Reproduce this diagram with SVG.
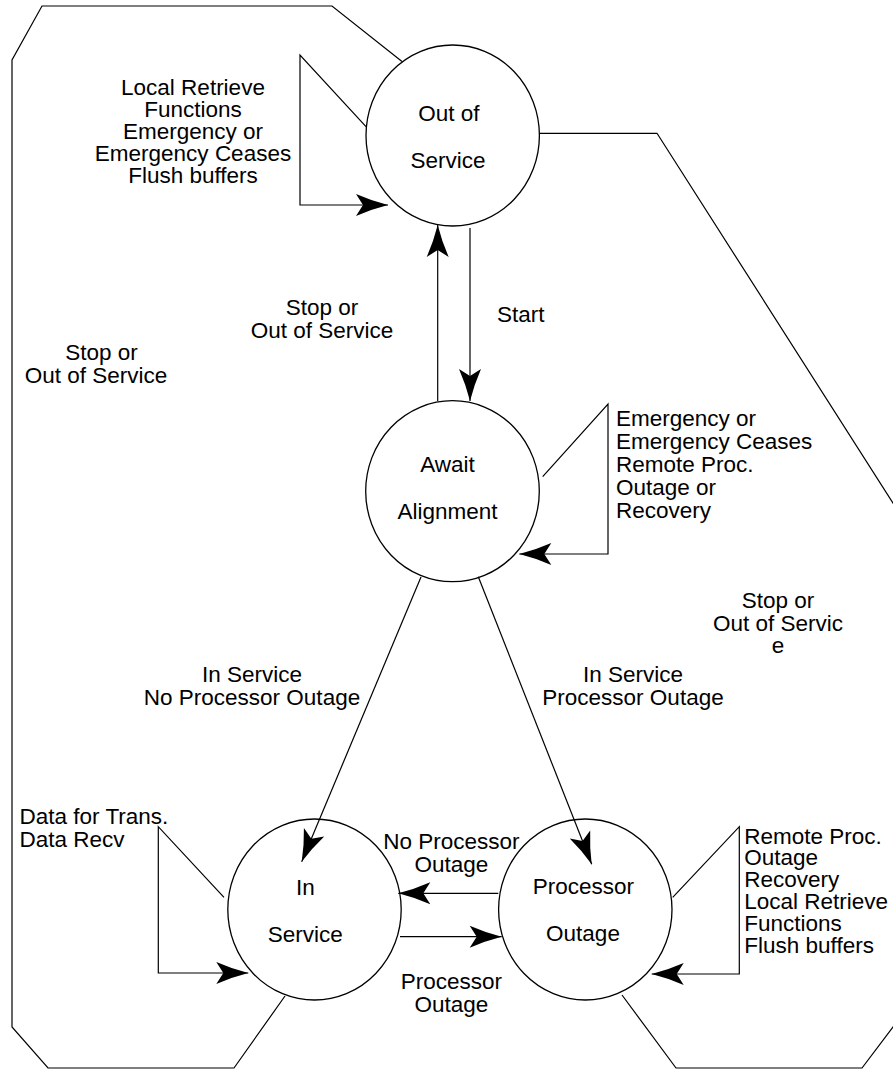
<svg xmlns="http://www.w3.org/2000/svg" width="893" height="1070" viewBox="0 0 893 1070">
  <style>
    text { font-family: "Liberation Sans", Arial, Helvetica, sans-serif; font-size: 22.5px; fill: #000; }
    .c { text-anchor: middle; }
    .state { fill: none; stroke: #000; stroke-width: 1.3; }
    .wire { fill: none; stroke: #000; stroke-width: 1.2; }
    .arrow { marker-end: url(#head); }
  </style>
  <defs>
    <marker id="head" markerUnits="userSpaceOnUse" viewBox="-33 -12 34 24" markerWidth="34" markerHeight="24" refX="0" refY="0" orient="auto">
      <path d="M0,0 Q-16,-4 -32,-11 L-25,0 L-32,11 Q-16,4 0,0 Z" fill="#000"/>
    </marker>
  </defs>
  <rect width="893" height="1070" fill="#fff"/>

  <!-- states -->
  <g id="out-of-service">
    <ellipse class="state" cx="452.7" cy="135.5" rx="86.7" ry="90.5"/>
    <text class="c" x="449" y="121">Out of</text>
    <text class="c" x="448" y="168">Service</text>
  </g>
  <g id="await-alignment">
    <ellipse class="state" cx="452.5" cy="491.2" rx="86.8" ry="90.5"/>
    <text class="c" x="447.5" y="471.5">Await</text>
    <text class="c" x="447.5" y="518.5">Alignment</text>
  </g>
  <g id="in-service">
    <ellipse class="state" cx="314.5" cy="909.5" rx="86.7" ry="90.5"/>
    <text class="c" x="305.5" y="894.5">In</text>
    <text class="c" x="305.3" y="941.5">Service</text>
  </g>
  <g id="processor-outage">
    <ellipse class="state" cx="585.3" cy="909.5" rx="86.7" ry="90.5"/>
    <text class="c" x="583.3" y="894">Processor</text>
    <text class="c" x="583" y="941">Outage</text>
  </g>

  <!-- transitions -->
  <g id="connectors">
    <!-- left outer return: Await/In Service to Out of Service -->
    <polyline class="wire" points="402,61.5 332,6 42,6 12,60 12,1027 48,1068 234,1068 285,996"/>
    <!-- right outer return: Processor Outage to Out of Service -->
    <polyline class="wire" points="539.3,133.3 657,133.3 930,561"/>
    <polyline class="wire" points="622,995 676,1068 862,1068 930,978"/>

    <!-- self loops -->
    <polyline class="wire arrow" points="366,126.7 300,55 300,205 388,205"/>
    <polyline class="wire arrow" points="542.7,476.7 608,404 608,554 519.3,554"/>
    <polyline class="wire arrow" points="224,897.3 158.3,826.7 158.3,973 248.3,973"/>
    <polyline class="wire arrow" points="672.7,897.3 739.3,826.7 739.3,974 651.7,974"/>

    <!-- Out of Service <-> Await Alignment -->
    <line class="wire arrow" x1="437.7" y1="401" x2="437.7" y2="225"/>
    <line class="wire arrow" x1="470" y1="228" x2="470" y2="401"/>

    <!-- Await Alignment -> In Service / Processor Outage -->
    <line class="wire arrow" x1="421" y1="577" x2="301.7" y2="861.7"/>
    <line class="wire arrow" x1="478.3" y1="576.7" x2="591.7" y2="864.3"/>

    <!-- In Service <-> Processor Outage -->
    <line class="wire arrow" x1="498.3" y1="893.3" x2="398.3" y2="893.3"/>
    <line class="wire arrow" x1="400" y1="936.7" x2="501.7" y2="936.7"/>
  </g>

  <!-- transition labels -->
  <g id="labels">
    <text class="c" x="193" y="95">Local Retrieve</text>
    <text class="c" x="193" y="117">Functions</text>
    <text class="c" x="193" y="139">Emergency or</text>
    <text class="c" x="193" y="161">Emergency Ceases</text>
    <text class="c" x="193" y="183">Flush buffers</text>

    <text x="497" y="321.7">Start</text>

    <text class="c" x="322" y="315">Stop or</text>
    <text class="c" x="322" y="338.3">Out of Service</text>

    <text class="c" x="101.5" y="360">Stop or</text>
    <text class="c" x="96" y="383">Out of Service</text>

    <text x="616" y="426">Emergency or</text>
    <text x="616" y="449">Emergency Ceases</text>
    <text x="616" y="472">Remote Proc.</text>
    <text x="616" y="495">Outage or</text>
    <text x="616" y="518">Recovery</text>

    <text class="c" x="778" y="608">Stop or</text>
    <text class="c" x="778" y="631">Out of Servic</text>
    <text class="c" x="778" y="653">e</text>

    <text class="c" x="252" y="681.7">In Service</text>
    <text class="c" x="252" y="705">No Processor Outage</text>

    <text class="c" x="633" y="681.7">In Service</text>
    <text class="c" x="633" y="705">Processor Outage</text>

    <text x="19.5" y="823.5">Data for Trans.</text>
    <text x="19.5" y="846.5">Data Recv</text>

    <text class="c" x="451.3" y="849">No Processor</text>
    <text class="c" x="451.3" y="871.5">Outage</text>

    <text class="c" x="451.3" y="988.5">Processor</text>
    <text class="c" x="451.3" y="1011.5">Outage</text>

    <text x="744.3" y="843.5">Remote Proc.</text>
    <text x="744.3" y="865.3">Outage</text>
    <text x="744.3" y="887.1">Recovery</text>
    <text x="744.3" y="908.9">Local Retrieve</text>
    <text x="744.3" y="930.7">Functions</text>
    <text x="744.3" y="952.5">Flush buffers</text>
  </g>
</svg>
